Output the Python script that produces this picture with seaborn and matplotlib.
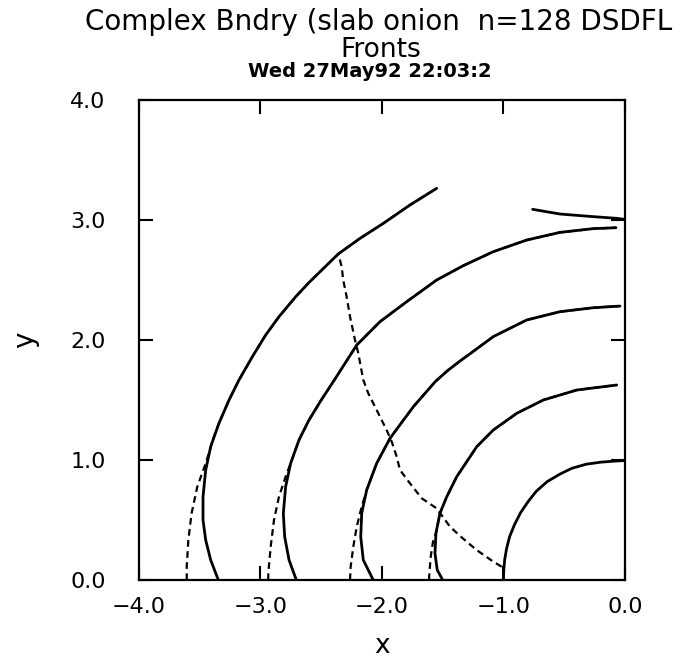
import seaborn as sns
import matplotlib.pyplot as plt
import pandas as pd

sns.set_style("ticks")
plt.rcParams['font.family'] = ['DejaVu Sans']
plt.rcParams['text.color'] = 'black'
plt.rcParams['axes.labelcolor'] = 'black'
plt.rcParams['xtick.color'] = 'black'
plt.rcParams['ytick.color'] = 'black'

# front curves (solid)
front1_x = [-1.00, -0.998, -0.99, -0.975, -0.95, -0.91, -0.86, -0.80, -0.73, -0.64,
            -0.54, -0.44, -0.32, -0.20, -0.10, -0.01]
front1_y = [0.00, 0.08, 0.17, 0.26, 0.36, 0.46, 0.56, 0.65, 0.74, 0.82,
            0.88, 0.93, 0.965, 0.982, 0.99, 0.995]

front2_x = [-1.50, -1.545, -1.564, -1.556, -1.523, -1.467, -1.385, -1.30, -1.22, -1.084,
            -0.891, -0.672, -0.398, -0.068]
front2_y = [0.00, 0.083, 0.222, 0.389, 0.556, 0.694, 0.861, 0.99, 1.111, 1.25,
            1.389, 1.50, 1.583, 1.625]

front3_x = [-2.072, -2.154, -2.175, -2.167, -2.126, -2.044, -1.934, -1.742, -1.56, -1.46,
            -1.358, -1.276, -1.084, -0.809, -0.535, -0.261, -0.041]
front3_y = [0.00, 0.167, 0.361, 0.556, 0.75, 0.972, 1.181, 1.444, 1.655, 1.745,
            1.825, 1.885, 2.028, 2.167, 2.236, 2.269, 2.283]

front4_x = [-2.705, -2.765, -2.801, -2.812, -2.793, -2.752, -2.683, -2.601, -2.50, -2.39,
            -2.208, -2.016, -1.797, -1.55, -1.33, -1.084, -0.809, -0.535, -0.261, -0.074]
front4_y = [0.00, 0.167, 0.361, 0.556, 0.778, 0.972, 1.167, 1.333, 1.50, 1.67,
            1.958, 2.153, 2.319, 2.50, 2.62, 2.736, 2.833, 2.897, 2.928, 2.936]

front5_x = [-3.347, -3.410, -3.451, -3.473, -3.473, -3.451, -3.410, -3.342, -3.259, -3.177,
            -3.067, -2.957, -2.848, -2.71, -2.60, -2.51, -2.36, -2.181, -1.989, -1.77, -1.55]
front5_y = [0.00, 0.167, 0.333, 0.50, 0.694, 0.917, 1.111, 1.306, 1.50, 1.667,
            1.861, 2.042, 2.194, 2.361, 2.48, 2.569, 2.717, 2.847, 2.972, 3.125, 3.264]

front6_x = [-0.76, -0.535, -0.261, -0.068, -0.01]
front6_y = [3.089, 3.05, 3.028, 3.014, 3.006]

# dashed curves (lower branches that join the fronts)
dash2_x = [-1.613, -1.61, -1.599, -1.578] + front2_x[3:]
dash2_y = [0.00, 0.056, 0.194, 0.333] + front2_y[3:]
dash3_x = [-2.263, -2.258, -2.236, -2.208, -2.17] + front3_x[4:]
dash3_y = [0.00, 0.111, 0.278, 0.444, 0.60] + front3_y[4:]
dash4_x = [-2.936, -2.936, -2.916, -2.889, -2.848, -2.793] + front4_x[5:]
dash4_y = [0.00, 0.056, 0.278, 0.50, 0.694, 0.861] + front4_y[5:]
dash5_x = [-3.607, -3.607, -3.594, -3.567, -3.52, -3.451, -3.383] + front5_x[7:]
dash5_y = [0.00, 0.111, 0.333, 0.556, 0.778, 0.972, 1.194] + front5_y[7:]

cross_x = [-1.015, -1.084, -1.221, -1.28, -1.35, -1.44, -1.55, -1.673, -1.77, -1.852,
           -1.879, -1.92, -1.962, -2.044, -2.113, -2.154, -2.195, -2.222, -2.263, -2.291,
           -2.319, -2.332, -2.36]
cross_y = [0.111, 0.153, 0.25, 0.30, 0.36, 0.444, 0.597, 0.681, 0.806, 0.917,
           1.028, 1.153, 1.25, 1.417, 1.556, 1.667, 1.889, 2.00, 2.194, 2.361,
           2.50, 2.611, 2.722]

fig = plt.figure(figsize=(6.82, 6.65), dpi=100)
ax = fig.add_axes([0.2038, 0.1278, 0.7126, 0.7218])

solid = [(front1_x, front1_y), (front2_x, front2_y), (front3_x, front3_y),
         (front4_x, front4_y), (front5_x, front5_y), (front6_x, front6_y)]
dashed = [(dash2_x, dash2_y), (dash3_x, dash3_y), (dash4_x, dash4_y),
          (dash5_x, dash5_y), (cross_x, cross_y)]

for xs, ys in dashed:
    df = pd.DataFrame({"x": xs, "y": ys})
    sns.lineplot(data=df, x="x", y="y", sort=False, estimator=None, ax=ax,
                 color="black", lw=1.6, linestyle=(0, (3, 2)))
for xs, ys in solid:
    df = pd.DataFrame({"x": xs, "y": ys})
    sns.lineplot(data=df, x="x", y="y", sort=False, estimator=None, ax=ax,
                 color="black", lw=2.0)

ax.set_xlim(-4, 0)
ax.set_ylim(0, 4)
ax.set_xticks([-4, -3, -2, -1, 0])
ax.set_yticks([0, 1, 2, 3, 4])
ax.set_xticklabels(["\u22124.0", "\u22123.0", "\u22122.0", "\u22121.0", "0.0"])
ax.set_yticklabels(["0.0", "1.0", "2.0", "3.0", "4.0"])
ax.tick_params(direction="in", length=10, width=1.5, top=True, right=True,
               labelsize=16, color="black")
ax.tick_params(axis="y", pad=24)
ax.tick_params(axis="x", pad=12)
for s in ax.spines.values():
    s.set_linewidth(1.6)
    s.set_color("black")

ax.set_xlabel("x", fontsize=19, labelpad=12)
ax.set_ylabel("y", fontsize=20, labelpad=22)

fig.text(0.125, 0.967, "Complex Bndry (slab onion  n=128 DSDFL", fontsize=20,
         ha="left", va="center")
fig.text(0.558, 0.925, "Fronts", fontsize=19, ha="center", va="center")
fig.text(0.542, 0.893, "Wed 27May92 22:03:2", fontsize=14, fontweight="bold",
         ha="center", va="center")

fig.savefig("out.png", dpi=100)
plt.close()
